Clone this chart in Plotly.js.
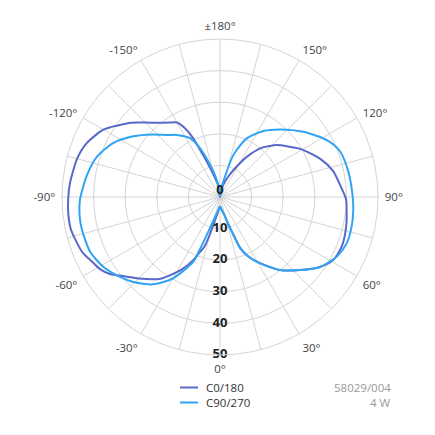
<!DOCTYPE html>
<html>
<head>
<meta charset="utf-8">
<script src="https://cdn.plot.ly/plotly-3.0.1.min.js"></script>
<style>html,body{margin:0;padding:0;background:#fff}#chart{width:435px;height:435px}</style>
</head>
<body>
<div id="chart"></div>
<script>
// C0/180 series (angle in degrees, intensity)
const c0Theta = [-180,-172,-165,-161,-158,-155.5,-153,-150,-146,-140,-135,-130,-125,-120,-112,-105,-95,-90,-84,-78,-72,-68,-63,-59,-55,-50,-45,-36,-28,-23,-20,-17.5,-15.5,-12.5,-8,0,8,13,16,19.5,21.5,25,30,39.4,47.6,55,61,68,77,84,89,94,103,111,121,132.5,136,140,146,152,158,165,172,180];
const c0R     = [0,3.8,6.5,10,14.3,20.4,24.4,27.2,28.4,30.7,33.3,36.6,39.5,42.6,45.5,46.8,47.7,48,48.3,48.3,47.5,46.9,45.3,44.3,42.5,39.1,36.5,32,26,21.7,18.5,16.5,13,8,5,3,4.2,5.5,8,12.5,17.4,20.5,23.7,29.9,34.3,38.6,41,41.6,41,40.3,39.9,38.6,36.7,33.9,29.6,24.3,22.4,20.3,15.5,10.5,7,4,2,0];

// C90/270 series
const c90Theta = [-180,-173,-167,-161.7,-157.7,-153,-149,-145,-140,-133,-125,-117,-108,-99,-89,-83,-77,-67,-59,-51.4,-45.5,-37.4,-30,-22.4,-21,-19.2,-15.7,-10,0,8,14,16,19.5,21.5,25,31,39.4,47.6,55,63,70,77,84,90,101,111,118,128,138.4,146.7,155.5,162.4,167.8,174,180];
const c90R     = [0,3,7.1,11.8,16.7,20.9,22.5,24,25.6,29,33.5,37.8,41,42.7,44.3,44.8,44.9,44.6,43,40.5,38.4,34.8,29.7,22.1,17.8,12.8,7.8,4.9,3,4.3,6,7.8,12.8,17,20.5,24.5,29.9,34.3,38.6,41.5,42.7,42.7,42.4,42,41.4,40.6,38.3,33.5,28.6,25,20.4,13.9,5,2,0];

// axis ticks
const angleTickVals = [0,15,30,45,60,75,90,105,120,135,150,165,180,195,210,225,240,255,270,285,300,315,330,345];
const angleTickText = ['0°','','30°','','60°','','90°','','120°','','150°','','±180°','','-150°','','-120°','','-90°','','-60°','','-30°',''];
const radialTicks = [0,10,20,30,40,50];
const radialTickText = ['0','10','20','30','40','50'];

const seriesNames = ['C0/180','C90/270'];
const infoLines = ['58029/004','4 W'];

const colDark = '#5a68c9';
const colLight = '#30a4f4';
const gridCol = '#d4d4d4';
const fontFam = 'Open Sans, sans-serif';

const traces = [
  {type:'scatterpolar', mode:'lines', theta:c0Theta, r:c0R, name:seriesNames[0],
   line:{color:colDark, width:2, shape:'spline', smoothing:0.7}, showlegend:false, hoverinfo:'skip'},
  {type:'scatterpolar', mode:'lines', theta:c90Theta, r:c90R, name:seriesNames[1],
   line:{color:colLight, width:2, shape:'spline', smoothing:0.7}, showlegend:false, hoverinfo:'skip'},
  {type:'scatterpolar', mode:'text', theta:radialTicks.map(()=>0), r:radialTicks, text:radialTickText,
   textposition:radialTicks.map((v,i)=> i===0 ? 'top center' : 'middle center'),
   textfont:{family:fontFam, size:13, color:'#222', weight:700},
   showlegend:false, hoverinfo:'skip', cliponaxis:false}
];

const W = 435;
const legY = [387.5, 402.5];
const shapes = legY.map((y,i)=>({type:'line', xref:'paper', yref:'paper',
  x0:180/W, x1:198/W, y0:1-y/W, y1:1-y/W, line:{color:i===0?colDark:colLight, width:2}}));
const annotations = [];
legY.forEach((y,i)=>{
  annotations.push({xref:'paper', yref:'paper', x:205/W, y:1-y/W, xanchor:'left', yanchor:'middle',
    text:seriesNames[i], showarrow:false, borderpad:0, font:{family:fontFam, size:11.5, color:'#333'}});
  annotations.push({xref:'paper', yref:'paper', x:392/W, y:1-y/W, xanchor:'right', yanchor:'middle',
    text:infoLines[i], showarrow:false, borderpad:0, font:{family:fontFam, size:11.5, color:'#999'}});
});

const layout = {
  width:435, height:435,
  margin:{l:0, r:0, t:0, b:0},
  paper_bgcolor:'#fff',
  showlegend:false,
  font:{family:fontFam, size:11, color:'#444'},
  polar:{
    domain:{x:[62/W, 378/W], y:[1-355/W, 1-39/W]},
    bgcolor:'#fff',
    angularaxis:{
      direction:'counterclockwise', rotation:270, thetaunit:'degrees',
      tickmode:'array', tickvals:angleTickVals, ticktext:angleTickText,
      ticks:'outside', ticklen:4, tickcolor:'rgba(0,0,0,0)',
      showline:true, linecolor:gridCol, linewidth:1,
      gridcolor:gridCol, gridwidth:1,
      tickfont:{family:fontFam, size:11.5, color:'#444'}
    },
    radialaxis:{
      range:[0,50], tickmode:'array', tickvals:radialTicks,
      showticklabels:false, ticks:'', showline:false,
      gridcolor:gridCol, gridwidth:1
    }
  },
  shapes:shapes,
  annotations:annotations
};

Plotly.newPlot('chart', traces, layout, {staticPlot:true, displayModeBar:false});
</script>
</body>
</html>
